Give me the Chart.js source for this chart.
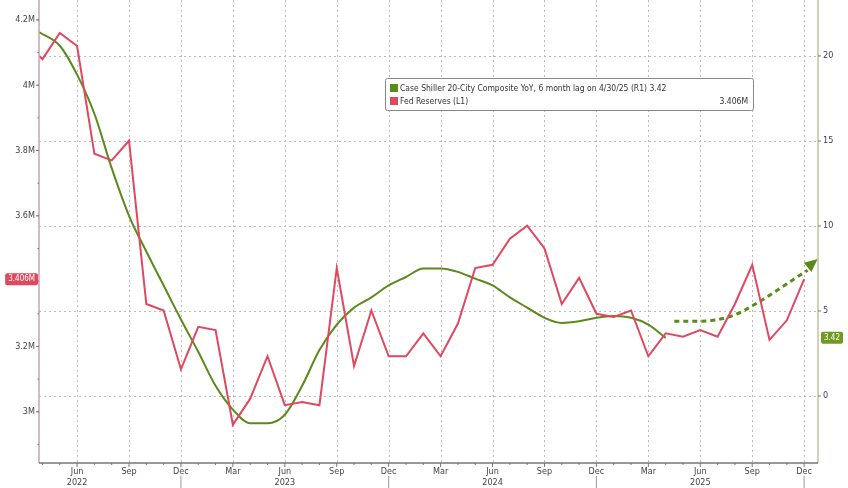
<!DOCTYPE html><html><head><meta charset="utf-8">
<script src="https://cdn.jsdelivr.net/npm/chart.js@4/dist/chart.umd.min.js"></script>
<style>html,body{margin:0;background:#fff}#w{width:848px;height:488px}</style></head><body><div id="w"><canvas id="c"></canvas></div>
<script>
// month index: 0 = Jan 2022
const fedMonths=[2.8,3,4,5,6,7,8,9,10,11,12,13,14,15,16,17,18,19,20,21,22,23,24,25,26,27,28,29,30,31,32,33,34,35,36,37,38,39,40,41,42,43,44,45,46,47];
const fedReserves=[4.09,4.08,4.16,4.12,3.79,3.77,3.83,3.33,3.31,3.13,3.26,3.25,2.96,3.04,3.17,3.02,3.03,3.02,3.44,3.14,3.31,3.17,3.17,3.24,3.17,3.27,3.44,3.45,3.53,3.57,3.50,3.33,3.41,3.30,3.29,3.31,3.17,3.24,3.23,3.25,3.23,3.33,3.45,3.22,3.28,3.406];
const csMonths=[2.8,4,5,6,7,8,9,10,11,12,13,14,15,16,17,18,19,20,21,22,23,24,25,26,27,28,29,30,31,32,33,34,35,36,37,38,39];
const caseShiller=[21.4,20.6,18.9,16.6,13.4,10.6,8.5,6.5,4.5,2.6,0.6,-0.8,-1.6,-1.6,-1.1,0.6,2.7,4.2,5.2,5.8,6.5,7.0,7.5,7.5,7.3,6.9,6.5,5.8,5.2,4.6,4.3,4.4,4.6,4.7,4.6,4.2,3.42];
const projMonths=[39.5,41,42.8,44.5,46.3,47.2];
const projection=[4.4,4.4,4.7,5.6,6.8,7.4];
const leftTicks=[3.0,3.2,3.6,3.8,4.0,4.2];
const rightTicks=[0,5,10,15,20];
const monthNames=['Jan','Feb','Mar','Apr','May','Jun','Jul','Aug','Sep','Oct','Nov','Dec'];

const pts=(xs,ys)=>xs.map((x,i)=>({x,y:ys[i]}));
const deco={id:'deco',
beforeDatasetsDraw(ch){const c=ch.ctx,a=ch.chartArea,x=ch.scales.x,yr=ch.scales.yR;
 c.save();c.strokeStyle='#bbb';c.lineWidth=1;c.setLineDash([2,3]);
 for(let m=3;m<=47;m++){if(m%3!==2)continue;const px=Math.round(x.getPixelForValue(m))+.5;c.beginPath();c.moveTo(px,a.top);c.lineTo(px,a.bottom);c.stroke();}
 rightTicks.forEach(v=>{const py=Math.round(yr.getPixelForValue(v))+.5;c.beginPath();c.moveTo(a.left,py);c.lineTo(a.right,py);c.stroke();});
 c.restore();},
afterDatasetsDraw(ch){const c=ch.ctx,a=ch.chartArea,x=ch.scales.x,yl=ch.scales.yL,yr=ch.scales.yR;
 c.save();
 c.lineWidth=1.5;c.strokeStyle='#c9a3ac';c.beginPath();c.moveTo(a.left,0);c.lineTo(a.left,a.bottom);c.stroke();
 c.strokeStyle='#b9c79a';c.beginPath();c.moveTo(a.right,0);c.lineTo(a.right,a.bottom);c.stroke();
 c.strokeStyle='#777';c.beginPath();c.moveTo(a.left,a.bottom);c.lineTo(a.right,a.bottom);c.stroke();
 c.lineWidth=1;c.font='9px "DejaVu Sans Condensed","DejaVu Sans"';c.fillStyle='#444';c.textBaseline='middle';
 c.textAlign='right';c.strokeStyle='#777';
 leftTicks.forEach(v=>{const py=yl.getPixelForValue(v);c.beginPath();c.moveTo(a.left-3,py);c.lineTo(a.left,py);c.stroke();c.fillText((Math.round(v*10)/10)+'M',a.left-4,py);});
 for(let v=2.9;v<4.25;v+=0.1){const py=yl.getPixelForValue(v);c.beginPath();c.moveTo(a.left-1.5,py);c.lineTo(a.left,py);c.stroke();}
 c.textAlign='left';
 rightTicks.forEach(v=>{const py=yr.getPixelForValue(v);c.beginPath();c.moveTo(a.right,py);c.lineTo(a.right+3,py);c.stroke();c.fillText(String(v),a.right+5,py);});
 c.textAlign='center';c.textBaseline='top';
 for(let m=3;m<=47;m++){const px=x.getPixelForValue(m);const q=m%3===2;c.beginPath();c.moveTo(px,a.bottom);c.lineTo(px,a.bottom+(q?4:2));c.stroke();
  if(q){c.fillText(monthNames[m%12],px,a.bottom+4);}
  if(m%12===5)c.fillText(String(2022+Math.floor(m/12)),px,a.bottom+15);
  if(m%12===11){c.strokeStyle='#999';c.beginPath();c.moveTo(px,a.bottom+13);c.lineTo(px,488);c.stroke();c.strokeStyle='#777';}}
 const ex=x.getPixelForValue(47.6),ey=yr.getPixelForValue(7.9),sx=x.getPixelForValue(46.3),sy=yr.getPixelForValue(6.8);
 const ang=Math.atan2(ey-sy,ex-sx);c.fillStyle='#5a8a1a';c.beginPath();c.moveTo(ex+4*Math.cos(ang),ey+4*Math.sin(ang));
 c.lineTo(ex-9*Math.cos(ang)+6*Math.sin(ang),ey-9*Math.sin(ang)-6*Math.cos(ang));c.lineTo(ex-9*Math.cos(ang)-6*Math.sin(ang),ey-9*Math.sin(ang)+6*Math.cos(ang));c.closePath();c.fill();
 const tag=(txt,xx,py,col,al)=>{c.font='8px "DejaVu Sans Condensed","DejaVu Sans"';const w=c.measureText(txt).width+6;const x0=al==='l'?xx-w:xx;
  c.fillStyle=col;c.beginPath();c.roundRect(x0,py-6,w,12,2);c.fill();c.fillStyle='#fff';c.textAlign='left';c.textBaseline='middle';c.fillText(txt,x0+3,py);};
 tag('3.406M',a.left-1,yl.getPixelForValue(3.406),'#e0485f','l');
 tag('3.42',a.right+3,yr.getPixelForValue(3.42),'#6f9a1f','r');
 c.fillStyle='#fff';c.strokeStyle='#888';c.lineWidth=1;c.beginPath();c.roundRect(385.5,78.5,368,32,2);c.fill();c.stroke();
 c.font='8.5px "DejaVu Sans Condensed","DejaVu Sans"';c.textBaseline='middle';
 c.fillStyle='#5a8a1a';c.fillRect(390,84,8,8);c.fillStyle='#e0485f';c.fillRect(390,97,8,8);
 c.fillStyle='#333';c.textAlign='left';c.fillText('Case Shiller 20-City Composite YoY, 6 month lag on 4/30/25 (R1) 3.42',400,88.5);
 c.fillText('Fed Reserves (L1)',400,101.5);c.textAlign='right';c.fillText('3.406M',748,101.5);
 c.restore();}};
new Chart(document.getElementById('c'),{type:'line',
 data:{datasets:[
  {data:pts(fedMonths,fedReserves),yAxisID:'yL',borderColor:'#e0485f',borderWidth:2,pointRadius:0,tension:0},
  {data:pts(csMonths,caseShiller),yAxisID:'yR',borderColor:'#5a8a1a',borderWidth:2,pointRadius:0,cubicInterpolationMode:'monotone'},
  {data:pts(projMonths,projection),yAxisID:'yR',borderColor:'#5a8a1a',borderWidth:3,borderDash:[5,4],pointRadius:0,cubicInterpolationMode:'monotone'}]},
 options:{responsive:true,maintainAspectRatio:false,animation:false,
  layout:{padding:0},
  plugins:{legend:{display:false},tooltip:{enabled:false}},
  scales:{
   x:{type:'linear',min:2.8,max:47.8,display:true,grid:{display:false},border:{display:false},ticks:{display:false},afterFit(s){s.height=25;}},
   yL:{position:'left',min:2.843,max:4.261,grid:{display:false},border:{display:false},ticks:{display:false},afterFit(s){s.width=39;}},
   yR:{position:'right',min:-3.94,max:23.29,grid:{display:false},border:{display:false},ticks:{display:false},afterFit(s){s.width=30;}}}},
 plugins:[deco]});
</script></body></html>
